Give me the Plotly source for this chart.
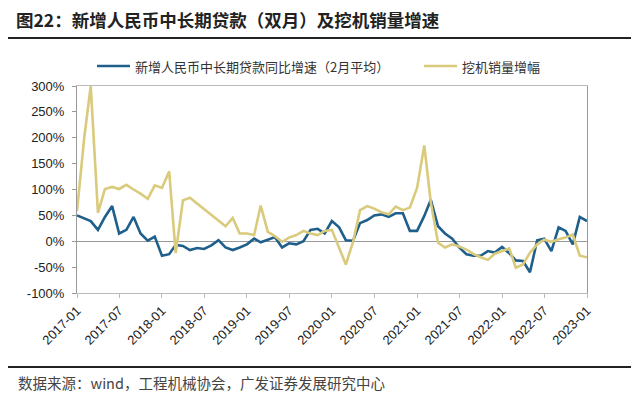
import plotly.graph_objects as go
import pandas as pd

months = pd.date_range("2017-01-01", "2023-01-01", freq="MS")

loan_growth = [50, 45, 39, 22, 47, 68, 15, 22, 47, 15, 1, 9, -28, -25, -7, -9, -17, -13,
               -15, -8, 2, -12, -17, -12, -6, 5, -2, 3, 8, -12, -4, -6, 0, 22, 24, 15,
               39, 27, 2, 1, 35, 41, 50, 52, 47, 54, 54, 20, 20, 49, 80, 29, 15, 5,
               -12, -25, -28, -28, -19, -22, -11, -23, -37, -38, -60, 2, 5, -19, 27, 20, -6, 47,
               39]
excavator_growth = [58, 200, 300, 55, 101, 105, 101, 109, 100, 92, 82, 108, 103, 135, -23, 79, 84, 73,
                    62, 50, 39, 29, 45, 15, 15, 12, 69, 18, 10, -1, 7, 12, 20, 15, 12, 20,
                    22, -12, -45, -1, 60, 68, 63, 56, 52, 67, 60, 65, 103, 185, 75, -3, -12, -6,
                    -10, -16, -25, -31, -36, -24, -19, -14, -51, -45, -22, -6, 3, -1, 4, 7, 13, -28,
                    -31]

series_names = ["新增人民币中长期贷款同比增速（2月平均）", "挖机销量增幅"]
series_colors = ["#1F5F8B", "#DACA7C"]
y_ticks = [-100, -50, 0, 50, 100, 150, 200, 250, 300]
x_ticks = pd.date_range("2017-01-01", "2023-01-01", freq="6MS")

title_text = "图22：新增人民币中长期贷款（双月）及挖机销量增速"
source_text = "数据来源：wind，工程机械协会，广发证券发展研究中心"

cjk = "Noto Sans CJK SC"
latin = "Liberation Sans, Arial"

# the page body adds an 8px margin, so the figure is drawn 8px smaller and everything
# is expressed in window pixels minus that offset
OFF = 8
W, H = 640 - OFF, 394 - OFF
# plot area in window pixels: x 77..587, y 86..293
L, R, T, B = 77 - OFF, 587 - OFF, 86 - OFF, 293 - OFF
def px(x):
    return (x - OFF - L) / (R - L)
def py(y):
    return (B - (y - OFF)) / (B - T)

fig = go.Figure()
for name, vals, col in zip(series_names, [loan_growth, excavator_growth], series_colors):
    fig.add_trace(go.Scatter(x=months, y=vals, mode="lines", name=name,
                             line=dict(color=col, width=2.6), showlegend=False))

fig.update_layout(
    width=W, height=H,
    margin=dict(l=L, r=W - R, t=T, b=H - B, autoexpand=False),
    paper_bgcolor="white", plot_bgcolor="white",
    xaxis=dict(type="date", range=[months[0], months[-1]], tickvals=list(x_ticks),
               ticktext=[d.strftime("%Y-%m") for d in x_ticks], tickangle=-45,
               tickfont=dict(family=latin, size=13, color="#222222"),
               showgrid=False, showline=True, linecolor="#BBBBBB", linewidth=1, mirror=True,
               ticks="outside", ticklen=4, tickcolor="#BBBBBB", zeroline=False),
    yaxis=dict(range=[-100, 300], tickvals=y_ticks, ticktext=[f"{v}%" for v in y_ticks],
               tickfont=dict(family=latin, size=13, color="#222222"),
               showgrid=False, showline=True, linecolor="#999999", linewidth=1, mirror=True,
               ticks="outside", ticklen=4, tickcolor="#999999", ticklabelstandoff=5,
               zeroline=True, zerolinecolor="#999999", zerolinewidth=1),
)

# legend (drawn manually to match the reference placement)
legend_items = [(97, 130, 133), (424, 457, 460)]
for (x0, x1, xt), name, col in zip(legend_items, series_names, series_colors):
    fig.add_shape(type="line", xref="paper", yref="paper", x0=px(x0), x1=px(x1),
                  y0=py(66), y1=py(66), line=dict(color=col, width=2.6))
    fig.add_annotation(text=name, xref="paper", yref="paper", x=px(xt), y=py(66),
                       xanchor="left", yanchor="middle", showarrow=False,
                       font=dict(family=cjk, size=13, color="#333333"))

fig.add_annotation(text=title_text, xref="paper", yref="paper", x=px(14), y=py(20),
                   xanchor="left", yanchor="middle", showarrow=False,
                   font=dict(family=cjk, size=17.5, color="#222222", weight="bold"))
fig.add_shape(type="line", xref="paper", yref="paper", x0=px(5), x1=px(631), y0=py(38), y1=py(38),
              line=dict(color="#222222", width=2))
fig.add_shape(type="line", xref="paper", yref="paper", x0=px(5), x1=px(631), y0=py(367), y1=py(367),
              line=dict(color="#222222", width=2))
fig.add_annotation(text=source_text, xref="paper", yref="paper", x=px(16), y=py(382),
                   xanchor="left", yanchor="middle", showarrow=False,
                   font=dict(family=cjk, size=14.5, color="#444444"))

fig.write_html("out.html")
